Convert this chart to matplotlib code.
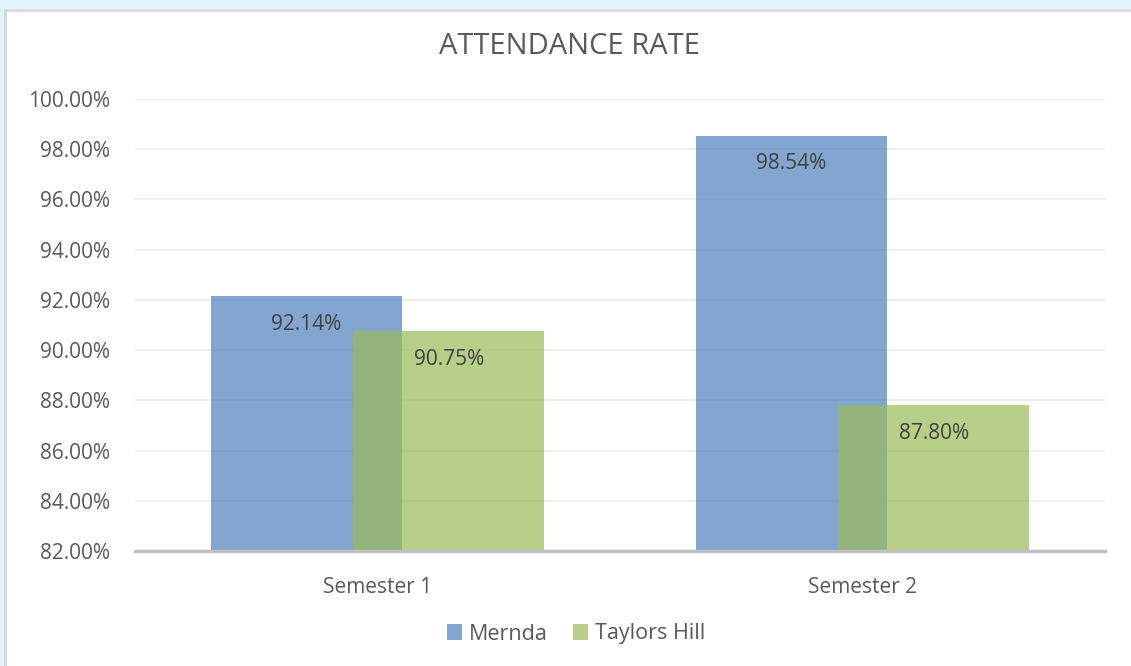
import matplotlib.pyplot as plt
import numpy as np
from matplotlib.patches import Rectangle
from matplotlib.ticker import FuncFormatter

# ---------- Data ----------
categories = ["Semester 1", "Semester 2"]
mernda = [92.14, 98.54]
taylors_hill = [90.75, 87.80]
series_names = ["Mernda", "Taylors Hill"]

# ---------- Style ----------
BLUE = "#4F81BD"
GREEN = "#9BBB59"
TEXT = "#595959"
plt.rcParams["font.family"] = ["Open Sans", "DejaVu Sans"]

W, H = 1131, 666
fig = plt.figure(figsize=(W / 100, H / 100), dpi=100)
fig.patch.set_facecolor("#E1F4FC")

# white chart frame
fig.patches.append(Rectangle((5 / W, -0.05), 1.1, 1 - 10 / H + 0.05,
                             transform=fig.transFigure, facecolor="white",
                             edgecolor="#D9D9D9", linewidth=2, zorder=-10))

ax = fig.add_axes([135 / W, 1 - 551 / H, (1105 - 135) / W, (551 - 99) / H])
ax.set_facecolor("none")
ax.set_zorder(2)

x = np.arange(len(categories))
width = 0.394
offset = 0.147
b1 = ax.bar(x - offset, mernda, width, color=BLUE, alpha=0.7, label=series_names[0], zorder=3)
b2 = ax.bar(x + offset, taylors_hill, width, color=GREEN, alpha=0.7, label=series_names[1], zorder=3)

# data labels just inside the top of each bar
for bars in (b1, b2):
    for rect in bars:
        v = rect.get_height()
        ax.annotate(f"{v:.2f}%", (rect.get_x() + rect.get_width() / 2, v),
                    xytext=(0, -28), textcoords="offset pixels",
                    ha="center", va="center", fontsize=15, color="#404040", zorder=4)

ax.set_ylim(82, 100)
ax.set_xlim(-0.5, 1.5)
ax.set_yticks(np.arange(82, 100.1, 2))
ax.yaxis.set_major_formatter(FuncFormatter(lambda y, _: f"{y:.2f}%"))
ax.set_xticks(x)
ax.set_xticklabels(categories)
ax.tick_params(axis="both", length=0, labelsize=15, labelcolor=TEXT)
ax.tick_params(axis="y", pad=18)
ax.tick_params(axis="x", pad=19)

ax.grid(axis="y", color="#EDEDED", linewidth=1.3, zorder=0)
for s in ("top", "right", "left"):
    ax.spines[s].set_visible(False)
ax.spines["bottom"].set_color("#BFBFBF")
ax.spines["bottom"].set_linewidth(2.5)
ax.spines["bottom"].set_zorder(5)

fig.text(569 / W, 1 - 46 / H, "ATTENDANCE RATE", ha="center", va="center",
         fontsize=21, color=TEXT)

fig.legend(handles=[b1, b2], loc="center", bbox_to_anchor=(576 / W, 1 - 634 / H),
           ncol=2, frameon=False, fontsize=15.5, labelcolor=TEXT,
           handlelength=0.7, handleheight=0.7, handletextpad=0.3, columnspacing=1.2)

fig.savefig("out.png", dpi=100, facecolor=fig.get_facecolor())
